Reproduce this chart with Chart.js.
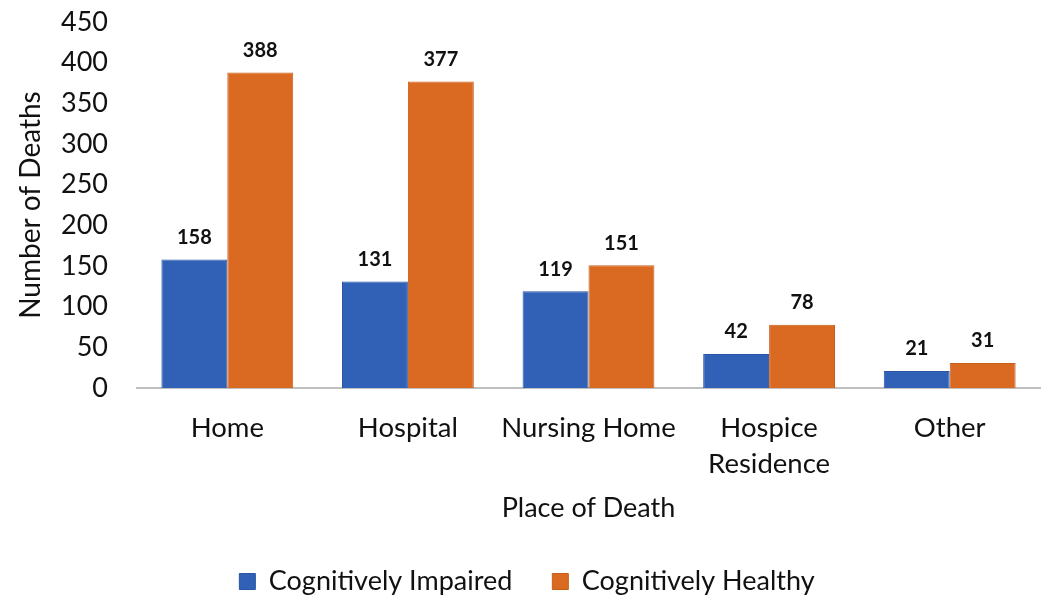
<!DOCTYPE html>
<html>
<head>
<meta charset="utf-8">
<script src="https://cdn.jsdelivr.net/npm/chart.js@4"></script>
<style>
  html, body { margin: 0; padding: 0; background: #fff; }
  #wrap { width: 1050px; height: 607px; }
</style>
</head>
<body>
<div id="wrap"><canvas id="deathChart"></canvas></div>
<script>
const categories = [['Home'], ['Hospital'], ['Nursing Home'], ['Hospice', 'Residence'], ['Other']];
const impaired = [158, 131, 119, 42, 21];
const healthy = [388, 377, 151, 78, 31];
const yTicks = [0, 50, 100, 150, 200, 250, 300, 350, 400, 450];

const FONT = 'Lato, "Open Sans", sans-serif';

// draw the value above each bar
const barLabels = {
    id: 'barLabels',
    afterDatasetsDraw(chart) {
        const ctx = chart.ctx;
        ctx.save();
        ctx.font = 'bold 20px ' + FONT;
        ctx.fillStyle = '#111';
        ctx.textAlign = 'center';
        ctx.textBaseline = 'middle';
        chart.data.datasets.forEach((ds, i) => {
            chart.getDatasetMeta(i).data.forEach((bar, j) => {
                ctx.fillText(ds.data[j], bar.x, bar.y - 22);
            });
        });
        ctx.restore();
    }
};

new Chart(document.getElementById('deathChart'), {
    type: 'bar',
    data: {
        labels: categories,
        datasets: [{
            label: 'Cognitively Impaired',
            data: impaired,
            backgroundColor: '#3161b6',
            borderColor: '#2a55a3',
            borderWidth: 1
        }, {
            label: 'Cognitively Healthy',
            data: healthy,
            backgroundColor: '#da6a22',
            borderColor: '#c95e1b',
            borderWidth: 1
        }]
    },
    options: {
        responsive: true,
        maintainAspectRatio: false,
        animation: false,
        layout: { padding: { top: 6, right: 10, left: 14, bottom: 2 } },
        datasets: {
            bar: { categoryPercentage: 0.73, barPercentage: 1.0 }
        },
        plugins: {
            legend: {
                position: 'bottom',
                labels: {
                    font: { family: FONT, size: 27 },
                    color: '#111',
                    boxWidth: 16,
                    boxHeight: 16,
                    padding: 40
                }
            },
            tooltip: { enabled: false }
        },
        scales: {
            x: {
                grid: { display: false, drawTicks: false },
                border: { display: true, color: '#bfbfbf', width: 2 },
                ticks: {
                    font: { family: FONT, size: 27.5, lineHeight: 1.3 },
                    color: '#111',
                    padding: 22,
                    maxRotation: 0,
                    autoSkip: false
                },
                title: {
                    display: true,
                    text: 'Place of Death',
                    font: { family: FONT, size: 27 },
                    color: '#111',
                    padding: { top: -12, bottom: 4 }
                },
                afterFit(axis) {
                    axis.paddingLeft = 0;
                    axis.paddingRight = 0;
                }
            },
            y: {
                min: 0,
                max: 450,
                afterBuildTicks(axis) {
                    axis.ticks = yTicks.map(v => ({ value: v }));
                },
                grid: { display: false, drawTicks: false },
                border: { display: false },
                ticks: {
                    font: { family: FONT, size: 27 },
                    color: '#111',
                    padding: 29
                },
                title: {
                    display: true,
                    text: 'Number of Deaths',
                    font: { family: FONT, size: 28 },
                    color: '#111',
                    padding: { top: 0, bottom: 8 }
                },
                afterFit(axis) {
                    axis.width = 123;
                    axis.paddingTop = 22;
                    axis.paddingBottom = 0;
                }
            }
        }
    },
    plugins: [barLabels]
});
</script>
</body>
</html>
